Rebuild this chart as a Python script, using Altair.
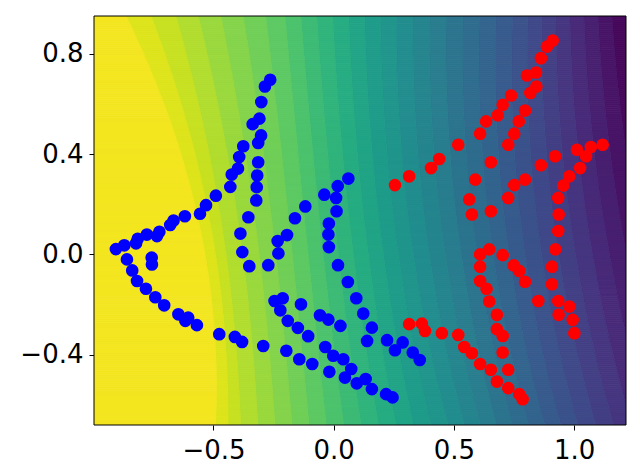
import numpy as np
import pandas as pd
import altair as alt

# ---------------- data ----------------
blue_x = [-0.264, -0.286, -0.301, -0.309, -0.337, -0.302, -0.314, -0.376, -0.393, -0.314,
          -0.398, -0.424, -0.318, -0.320, -0.430, -0.490, -0.322, -0.531, -0.556, -0.619,
          -0.355, -0.666, -0.680, -0.725, -0.735, -0.777, -0.815, -0.822, -0.871, -0.906,
          -0.388, -0.757, -0.756, -0.860, -0.380, -0.351, -0.272, -0.230, -0.233, -0.194,
          -0.161, -0.118, -0.039, 0.017, 0.061, 0.010, 0.012, -0.020, -0.022, -0.020,
          0.018, 0.059, 0.094, 0.123, 0.159, 0.139, 0.222, -0.838, -0.818, -0.781,
          -0.742, -0.705, -0.646, -0.605, -0.617, -0.569, -0.476, -0.411, -0.381, -0.293,
          -0.197, -0.143, -0.089, -0.018, -0.035, -0.002, 0.040, 0.073, 0.047, 0.096,
          0.133, 0.159, 0.218, -0.246, -0.212, -0.222, -0.136, -0.191, -0.149, -0.106,
          -0.057, -0.022, 0.028, 0.358, 0.329, 0.287, 0.255, 0.245]
blue_y = [0.696, 0.669, 0.607, 0.541, 0.519, 0.474, 0.444, 0.431, 0.388, 0.367,
          0.342, 0.318, 0.314, 0.268, 0.269, 0.234, 0.215, 0.196, 0.162, 0.152,
          0.148, 0.135, 0.117, 0.090, 0.073, 0.079, 0.062, 0.044, 0.036, 0.021,
          0.083, -0.013, -0.040, -0.020, 0.009, -0.047, -0.043, 0.004, 0.053, 0.077,
          0.144, 0.191, 0.238, 0.272, 0.302, 0.225, 0.172, 0.123, 0.079, 0.029,
          -0.043, -0.110, -0.175, -0.236, -0.292, -0.345, -0.342, -0.064, -0.106, -0.137,
          -0.171, -0.203, -0.239, -0.252, -0.265, -0.282, -0.318, -0.329, -0.349, -0.365,
          -0.384, -0.418, -0.437, -0.468, -0.369, -0.404, -0.418, -0.457, -0.491, -0.514,
          -0.497, -0.537, -0.557, -0.186, -0.175, -0.223, -0.199, -0.265, -0.293, -0.326,
          -0.243, -0.260, -0.285, -0.421, -0.391, -0.351, -0.382, -0.570]

red_x = [0.911, 0.887, 0.862, 0.842, 0.804, 0.843, 0.818, 0.738, 0.703, 0.796,
         0.682, 0.770, 0.634, 0.609, 0.751, 0.726, 0.518, 0.439, 0.405, 0.314,
         0.255, 0.654, 0.589, 0.564, 0.575, 0.654, 0.726, 0.751, 0.796, 0.862,
         0.921, 1.012, 1.070, 1.119, 1.050, 1.025, 0.980, 0.955, 0.934, 0.936,
         0.934, 0.922, 0.908, 0.908, 0.934, 0.980, 0.936, 0.994, 1.001, 0.851,
         0.796, 0.772, 0.749, 0.703, 0.647, 0.609, 0.609, 0.609, 0.636, 0.647,
         0.679, 0.679, 0.703, 0.703, 0.726, 0.654, 0.609, 0.575, 0.543, 0.518,
         0.450, 0.380, 0.367, 0.314, 0.679, 0.726, 0.772, 0.786]
red_y = [0.852, 0.828, 0.782, 0.725, 0.713, 0.669, 0.643, 0.633, 0.596, 0.573,
         0.554, 0.530, 0.530, 0.481, 0.481, 0.437, 0.437, 0.380, 0.344, 0.311,
         0.276, 0.367, 0.298, 0.219, 0.159, 0.172, 0.225, 0.276, 0.298, 0.355,
         0.391, 0.417, 0.428, 0.437, 0.391, 0.344, 0.311, 0.274, 0.225, 0.159,
         0.093, 0.020, -0.049, -0.119, -0.186, -0.208, -0.241, -0.261, -0.314, -0.186,
         -0.109, -0.066, -0.044, -0.003, 0.020, 0.000, -0.049, -0.106, -0.137, -0.188,
         -0.241, -0.298, -0.325, -0.391, -0.460, -0.460, -0.437, -0.394, -0.369, -0.321,
         -0.314, -0.305, -0.276, -0.278, -0.507, -0.533, -0.557, -0.577]

# background field: x position of iso-lines (level values) read at a few rows
field_rows_y = [-0.68, -0.4, 0.0, 0.5, 0.95]
field_levels = [1.0, 0.9, 0.75, 0.5, 0.25, 0.0]
iso_x = {
    1.0:  [-0.544, -0.531, -0.585, -0.727, -0.968],
    0.9:  [-0.400, -0.390, -0.430, -0.570, -0.643],
    0.75: [-0.070, -0.090, -0.140, -0.190, -0.235],
    0.5:  [0.470, 0.420, 0.320, 0.280, 0.260],
    0.25: [0.970, 0.920, 0.820, 0.780, 0.780],
    0.0:  [1.530, 1.470, 1.350, 1.270, 1.216],
}
n_bands = 30

x_ticks = [-0.5, 0.0, 0.5, 1.0]
y_ticks = [-0.4, 0.0, 0.4, 0.8]
x_dom = [-0.997, 1.216]
y_dom = [-0.68, 0.95]

# ---------------- build background bands ----------------
# smooth each iso-line across rows (quadratic least squares)
fits = {l: np.polyfit(field_rows_y, iso_x[l], 2) for l in field_levels}

rows = []
dy = 0.008
ys = np.arange(y_dom[0], y_dom[1], dy)
lev_asc = np.array(field_levels[::-1])
for y0 in ys:
    yc = y0 + dy / 2
    xs_iso = np.array([np.polyval(fits[l], yc) for l in field_levels])
    xs_iso = np.maximum.accumulate(xs_iso + np.arange(len(xs_iso)) * 1e-6)
    xs_iso_asc_lev = xs_iso[::-1]
    cuts = [np.interp(j / n_bands, lev_asc, xs_iso_asc_lev) for j in range(n_bands + 1)]
    for k in range(n_bands):
        right = cuts[k] if k > 0 else x_dom[1] + 1
        left = cuts[k + 1] if k < n_bands - 1 else x_dom[0] - 1
        left = max(left, x_dom[0])
        right = min(right, x_dom[1])
        if right <= left:
            continue
        rows.append(dict(x0=left, x1=right, y0=y0, y1=min(y0 + dy * 1.2, y_dom[1]),
                         c=(k + 0.5) / n_bands))
bg_df = pd.DataFrame(rows)

pts = pd.DataFrame({
    "x": blue_x + red_x,
    "y": blue_y + red_y,
    "cls": ["b"] * len(blue_x) + ["r"] * len(red_x),
})

xs = alt.Scale(domain=x_dom, nice=False, zero=False)
yscale = alt.Scale(domain=y_dom, nice=False, zero=False)

axis_common = dict(grid=False, domain=False, tickColor="black", tickSize=5, tickWidth=1,
                   labelFont="DejaVu Sans", labelFontSize=26, labelColor="black",
                   labelOverlap=False, labelFlush=False, title=None,
                   labelExpr="replace(format(datum.value, '.1f'), '-', '\u2212')")

x_enc = alt.X("x0:Q", scale=xs, axis=alt.Axis(values=x_ticks, labelPadding=7, **axis_common))
y_enc = alt.Y("y0:Q", scale=yscale, axis=alt.Axis(values=y_ticks, labelPadding=6, **axis_common))

bg = alt.Chart(bg_df).mark_rect(clip=True, strokeWidth=0.6).encode(
    x=x_enc, x2="x1:Q", y=y_enc, y2="y1:Q",
    color=alt.Color("c:Q", scale=alt.Scale(scheme="viridis", domain=[0, 1]), legend=None),
    stroke=alt.Stroke("c:Q", scale=alt.Scale(scheme="viridis", domain=[0, 1]), legend=None),
)

points = alt.Chart(pts).mark_circle(size=160, opacity=1).encode(
    x=alt.X("x:Q", scale=xs),
    y=alt.Y("y:Q", scale=yscale),
    fill=alt.Fill("cls:N", scale=alt.Scale(domain=["b", "r"], range=["#0000ff", "#ff0000"]), legend=None),
)

frame = alt.Chart(pd.DataFrame({"a": [0]})).mark_rect(fill=None, stroke="black", strokeWidth=1).encode(
    x=alt.value(0), x2=alt.value(532), y=alt.value(0), y2=alt.value(409)
)

chart = alt.layer(bg, points, frame).resolve_scale(color="independent", fill="independent").properties(
    width=532, height=409,
    padding={"left": 11, "top": 7, "right": 5, "bottom": 5},
).configure_view(stroke=None)

chart.save("out.html", embed_options={"renderer": "svg", "actions": False})
